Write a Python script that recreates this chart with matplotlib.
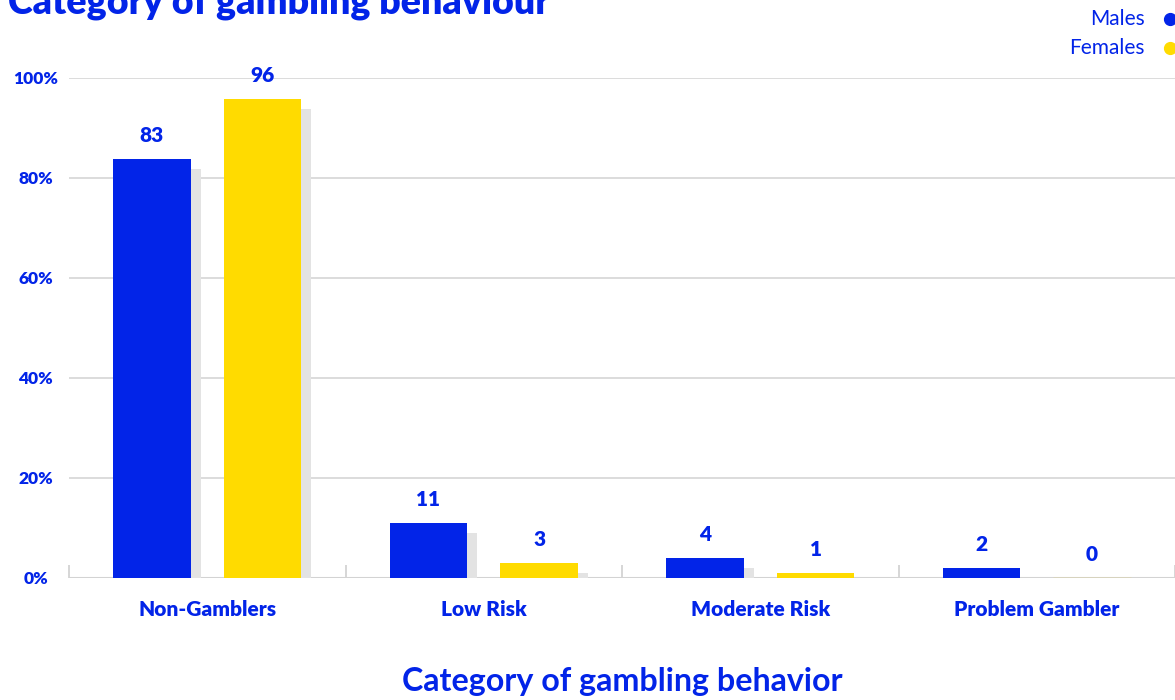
"""Category of gambling behaviour: males vs females"""

import matplotlib
matplotlib.use("Agg")
import matplotlib.pyplot as plt
from matplotlib.lines import Line2D
import numpy as np

# данные
categories = ["Non-Gamblers", "Low Risk", "Moderate Risk", "Problem Gambler"]
males = [83.9, 11, 4, 2]
females = [95.9, 3, 1, 0]
males_labels = ["83", "11", "4", "2"]
females_labels = ["96", "3", "1", "0"]
y_ticks = [0, 20, 40, 60, 80, 100]

BLUE = "#0224E8"
YELLOW = "#FFDB00"
SHADOW = "#E3E3E3"
GRID = "#D9D9D9"
FONT = "Lato"
HEAVY = "heavy"

plt.rcParams["font.family"] = [FONT, "DejaVu Sans"]

W, H = 1175, 700
fig = plt.figure(figsize=(W / 100, H / 100), dpi=100)
# ось: слева 69px, низ 578px, верх 78px
ax = fig.add_axes([69 / W, 1 - 578 / H, (W - 69) / W, 500 / H])

x = np.arange(len(categories))
bar_w = 0.28
off = 0.2
sh_dx = 10 / 278  # тень смещена на 10px вправо
sh_dy = 2  # и на 2% вниз

for vals, dx, col, labels in [(males, -off, BLUE, males_labels),
                              (females, off, YELLOW, females_labels)]:
    shadow = [max(v - sh_dy, 0) for v in vals]
    ax.bar(x + dx + sh_dx, shadow, bar_w, color=SHADOW, zorder=2)
    bars = ax.bar(x + dx, vals, bar_w, color=col, zorder=3)
    for b, v, lab in zip(bars, vals, labels):
        if v == 0:
            # нулевой столбик - тонкая бледная полоска
            b.set_edgecolor(col)
            b.set_alpha(0.5)
            b.set_linewidth(1.0)
        ax.text(b.get_x() + b.get_width() / 2, v + 2.8, lab, ha="center", va="bottom",
                color=BLUE, fontsize=15, fontweight=HEAVY, zorder=4)

ax.set_xlim(-0.5, -0.5 + (W - 69) / 278)
ax.set_ylim(0, 100)

for s in ax.spines.values():
    s.set_visible(False)

# сетка
for t in y_ticks[1:]:
    ax.axhline(t, color=GRID, lw=1.3, zorder=0)
ax.axhline(0, color="#D3D3D3", lw=2.2, zorder=1)

ax.set_yticks(y_ticks)
ax.set_yticklabels([f"{t}%" for t in y_ticks], color=BLUE, fontweight=HEAVY, fontsize=12.5)
for lbl in ax.get_yticklabels():
    lbl.set_horizontalalignment("center")
ax.tick_params(axis="y", length=0, pad=24)

ax.set_xticks(x)
ax.set_xticklabels(categories, color=BLUE, fontweight=HEAVY, fontsize=15)
ax.tick_params(axis="x", length=0, pad=15.5)
ax.set_xticks(np.arange(-0.5, len(categories), 1.0), minor=True)
ax.tick_params(axis="x", which="minor", direction="in", length=9.5, width=1.3, color="#D3D3D3")

ax.set_xlabel("Category of gambling behavior", color=BLUE, fontsize=23.2, fontweight="bold",
              labelpad=35)

fig.text(8 / W, 1 - 14 / H, "Category of gambling behaviour", color=BLUE, fontsize=27,
         fontweight=HEAVY, ha="left", va="baseline")

# легенда
for i, (name, col) in enumerate([("Males", BLUE), ("Females", YELLOW)]):
    yy = 1 - (19 + 29 * i) / H
    fig.text(1145 / W, yy, name, color=BLUE, fontsize=15, ha="right", va="center")
    fig.add_artist(Line2D([1170 / W], [yy], marker="o", ms=8.5, color=col, lw=0,
                          transform=fig.transFigure))

fig.savefig("out.png", dpi=100)
